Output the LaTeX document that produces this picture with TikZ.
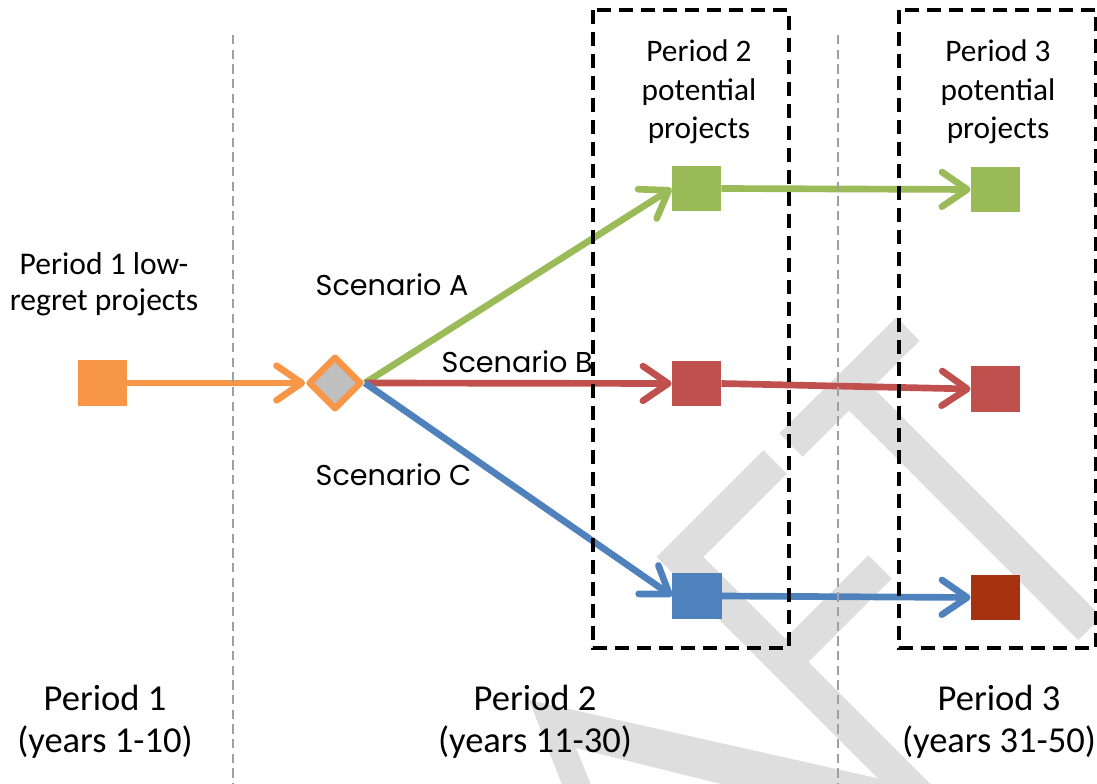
\documentclass[tikz,border=0pt]{standalone}
\usepackage{fontspec}
\setmainfont{Carlito}
\newfontfamily\scenfont{Poppins}
\usetikzlibrary{arrows.meta,shapes.geometric}
\definecolor{orng}{RGB}{247,150,70}
\definecolor{grn}{RGB}{155,187,89}
\definecolor{rd}{RGB}{192,80,77}
\definecolor{blu}{RGB}{79,129,189}
\definecolor{drd}{RGB}{166,50,18}
\definecolor{wm}{RGB}{222,222,222}
\definecolor{dgray}{RGB}{160,160,160}
\definecolor{dfill}{RGB}{191,191,191}
\begin{document}
\begin{tikzpicture}[x=0.75pt,y=-0.75pt,
 sqbox/.style={rectangle, inner sep=0pt, minimum width=37pt, minimum height=34pt},
 arr/.style={line width=5pt, -{Straight Barb[length=19pt,width=26pt,round]}},
 wmband/.style={wm, line width=24.75pt, line join=miter},
 boxdash/.style={line width=3pt, dash pattern=on 10.5pt off 6pt},
 sepline/.style={dgray, line width=1.5pt, dash pattern=on 7pt off 4pt},
 lbl/.style={align=center, font=\fontsize{23.5}{29}\selectfont},
 plbl/.style={align=center, font=\fontsize{27.4}{31.5}\selectfont},
 scen/.style={anchor=base west, font=\scenfont\fontsize{21.5}{25}\selectfont}]
\useasboundingbox (0,0) rectangle (1097,784);
% watermark
\begin{scope}
\clip (0,0) rectangle (1097,784);
\draw[wmband] (775,462) -- (680,557) -- (930,807);
\draw[wmband] (880,567) -- (785,662);
\draw[wmband] (791,445) -- (908,329);
\draw[wmband] (849,387) -- (1090,628.5);
\fill[wm] (529,700) -- (564,790) -- (593,790) -- (576,748) -- (745,790) -- (930,790) -- cycle;
\end{scope}
% nodes
\node[sqbox, fill=orng] (p1) at (102.5,383) {};
\node[diamond, aspect=1, draw=orng, fill=dfill, line width=4.8pt, line join=round, inner sep=0pt, minimum size=40pt] (hub) at (335,383) {};
\node[sqbox, fill=grn] (g2) at (696.5,188.5) {};
\node[sqbox, fill=rd] (r2) at (696.5,383.5) {};
\node[sqbox, fill=blu] (b2) at (697,596) {};
\node[sqbox, fill=grn] (g3) at (995.5,189.5) {};
\node[sqbox, fill=rd] (r3) at (995.5,389) {};
\node[sqbox, fill=drd] (d3) at (995.5,597.5) {};
% arrows
\draw[arr, orng] (p1.east) -- (hub.west);
\draw[arr, grn] (hub.east) -- (g2.west);
\draw[arr, rd] (hub.east) -- (r2.west);
\draw[arr, blu] (hub.east) -- (b2.west);
\draw[arr, grn] (g2.east) -- (g3.west);
\draw[arr, rd] (r2.east) -- (r3.west);
\draw[arr, blu] (b2.east) -- (d3.west);
% separators and boxes
\draw[sepline] (233,35) -- (233,784);
\draw[sepline] (838,35) -- (838,784);
\draw[boxdash] (593,10) rectangle (789,648);
\draw[boxdash] (899,10) rectangle (1096,648);
% texts
\node[lbl] (t2) at (699,92) {Period 2\\potential\\projects};
\node[lbl] (t3) at (998,92) {Period 3\\potential\\projects};
\node[lbl, font=\fontsize{23.7}{27}\selectfont] (t1) at (104,284) {Period 1 low-\\regret projects};
\node[plbl] (lb1) at (105,722) {Period 1\\(years 1-10)};
\node[plbl] (lb2) at (535,722) {Period 2\\(years 11-30)};
\node[plbl] (lb3) at (999,722) {Period 3\\(years 31-50)};
\node[scen] (sa) at (311,296) {Scenario A};
\node[scen] (sb) at (437,373) {Scenario B};
\node[scen] (sc) at (311,485) {Scenario C};
\end{tikzpicture}
\end{document}
